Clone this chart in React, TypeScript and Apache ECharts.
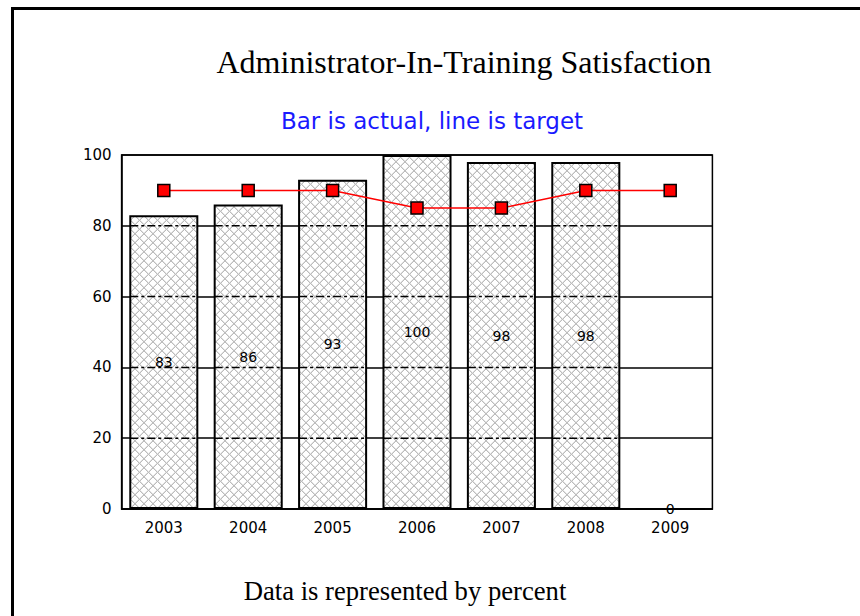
import React, { useEffect, useRef } from "react";
import * as echarts from "echarts";

const YEARS = ["2003", "2004", "2005", "2006", "2007", "2008", "2009"];
const ACTUAL = [83, 86, 93, 100, 98, 98, 0];
const TARGET = [90, 90, 90, 85, 85, 90, 90];
const Y_MIN = 0;
const Y_MAX = 100;
const Y_STEP = 20;
const GRID_VALUES = [20, 40, 60, 80];

const TITLE = "Administrator-In-Training Satisfaction";
const SUBTITLE = "Bar is actual, line is target";
const FOOTER = "Data is represented by percent";

const BAR_FRAC = 0.818;

function makeHatch(): HTMLCanvasElement {
  const n = 9;
  const c = document.createElement("canvas");
  c.width = n;
  c.height = n;
  const ctx = c.getContext("2d")!;
  ctx.fillStyle = "#ffffff";
  ctx.fillRect(0, 0, n, n);
  ctx.fillStyle = "#e2e2e2";
  for (let i = 0; i < n; i++) {
    ctx.fillRect((i + 1) % n, i, 1, 1);
    ctx.fillRect((n - 1 - i + n - 1) % n, i, 1, 1);
  }
  ctx.fillStyle = "#bcbcbc";
  for (let i = 0; i < n; i++) {
    ctx.fillRect(i, i, 1, 1);
    ctx.fillRect(n - 1 - i, i, 1, 1);
  }
  return c;
}

export default function App() {
  const ref = useRef<HTMLDivElement>(null);
  useEffect(() => {
    if (!ref.current) return;
    const chart = echarts.init(ref.current, null, { renderer: "svg" });
    const hatch = makeHatch();
    const sans = "'DejaVu Sans', sans-serif";
    const serif = "'Liberation Serif', 'Times New Roman', serif";
    chart.setOption({
      animation: false,
      backgroundColor: "#ffffff",
      grid: {
        left: 121.6,
        right: 147.6,
        top: 155,
        bottom: 107,
        show: true,
        borderColor: "#000",
        borderWidth: 1.5,
        backgroundColor: "transparent",
      },
      xAxis: {
        type: "category",
        data: YEARS,
        axisLine: { lineStyle: { color: "#000", width: 1.5 } },
        axisTick: { show: false },
        axisLabel: {
          color: "#000",
          fontFamily: sans,
          fontSize: 15,
          margin: 11,
        },
      },
      yAxis: {
        type: "value",
        min: Y_MIN,
        max: Y_MAX,
        interval: Y_STEP,
        axisLine: { show: true, lineStyle: { color: "#000", width: 1.5 } },
        axisTick: { show: false },
        axisLabel: {
          color: "#000",
          fontFamily: sans,
          fontSize: 15,
          margin: 10,
        },
        splitLine: { show: true, lineStyle: { color: "#000", width: 1.5 } },
      },
      series: [
        {
          type: "bar",
          data: ACTUAL,
          barWidth: BAR_FRAC * 100 + "%",
          z: 2,
          itemStyle: {
            color: { image: hatch, repeat: "repeat", imageWidth: 9, imageHeight: 9 },
            borderColor: "#000",
            borderWidth: 2,
          },
          label: {
            show: true,
            position: "inside",
            color: "#000",
            fontFamily: sans,
            fontSize: 14,
          },
        },
        {
          type: "custom",
          z: 3,
          silent: true,
          data: ACTUAL.map((v, i) => [i, v]),
          renderItem: (params: any, api: any) => {
            const idx = api.value(0);
            const val = api.value(1);
            const band = api.size([1, 0])[0];
            const bw = band * BAR_FRAC;
            const children: any[] = [];
            GRID_VALUES.forEach((g) => {
              if (g < val) {
                const p = api.coord([idx, g]);
                children.push({
                  type: "line",
                  shape: { x1: p[0] - bw / 2 + 1, y1: p[1], x2: p[0] + bw / 2 - 1, y2: p[1] },
                  style: { stroke: "#000", lineWidth: 1.5, lineDash: [8, 3, 3, 3] },
                });
              }
            });
            return { type: "group", children };
          },
        },
        {
          type: "line",
          data: TARGET,
          z: 5,
          symbol: "rect",
          symbolSize: 12,
          lineStyle: { color: "#ff0000", width: 1.5 },
          itemStyle: { color: "#ff0000", borderColor: "#000", borderWidth: 1.5 },
        },
      ],
      graphic: [
        {
          type: "line",
          shape: { x1: 11, y1: 8.5, x2: 860, y2: 8.5 },
          style: { stroke: "#000", lineWidth: 3 },
        },
        {
          type: "line",
          shape: { x1: 12.5, y1: 7, x2: 12.5, y2: 616 },
          style: { stroke: "#000", lineWidth: 3 },
        },
        {
          type: "text",
          x: 464,
          y: 62,
          style: {
            text: TITLE,
            font: "32px " + serif,
            fill: "#000",
            textAlign: "center",
            textVerticalAlign: "middle",
            align: "center",
            verticalAlign: "middle",
          },
        },
        {
          type: "text",
          x: 432,
          y: 121,
          style: {
            text: SUBTITLE,
            font: "23px " + sans,
            fill: "#1a1aff",
            textAlign: "center",
            textVerticalAlign: "middle",
            align: "center",
            verticalAlign: "middle",
          },
        },
        {
          type: "text",
          x: 405,
          y: 591,
          style: {
            text: FOOTER,
            font: "26.67px " + serif,
            fill: "#000",
            textAlign: "center",
            textVerticalAlign: "middle",
            align: "center",
            verticalAlign: "middle",
          },
        },
      ],
    });
    return () => chart.dispose();
  }, []);
  return (
    <div
      ref={ref}
      style={{ position: "fixed", left: 0, top: 0, width: 860, height: 616, background: "#fff" }}
    />
  );
}
